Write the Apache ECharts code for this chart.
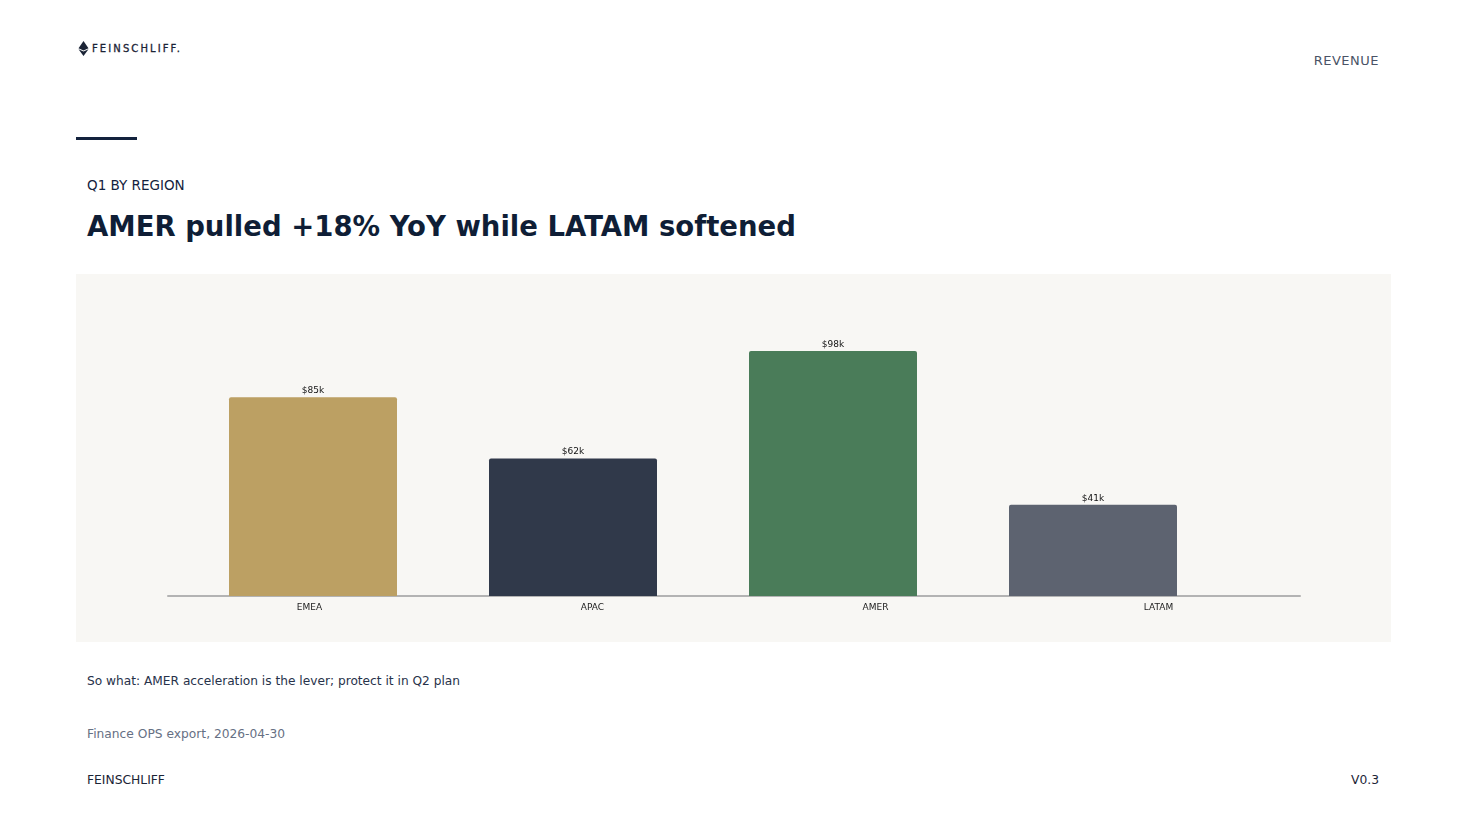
<!DOCTYPE html>
<html>
<head>
<meta charset="utf-8">
<script src="https://cdn.jsdelivr.net/npm/echarts@6/dist/echarts.min.js"></script>
<style>
  html, body { margin: 0; padding: 0; background: #ffffff; }
  body { width: 1467px; height: 825px; position: relative; font-family: "DejaVu Sans", sans-serif; overflow: hidden; }
  .t { position: absolute; white-space: nowrap; }
  #logo { left: 78px; top: 41px; display: flex; align-items: center; }
  #logo span { font-size: 10px; font-weight: normal; letter-spacing: 2.1px; color: #1b2436; margin-left: 3px; -webkit-text-stroke: 0.3px #1b2436; }
  #tag { right: 88px; top: 53px; font-size: 13px; letter-spacing: 0.5px; color: #4a5366; }
  #rule { position: absolute; left: 76px; top: 137px; width: 61px; height: 3px; background: #13223d; }
  #kicker { left: 87px; top: 177px; font-size: 13.5px; color: #13223d; }
  #title { left: 87px; top: 210px; font-size: 27.5px; font-weight: bold; color: #0f1e36; }
  #chart { position: absolute; left: 76px; top: 274px; width: 1315px; height: 368px; background: #f8f7f4; }
  #sowhat { left: 87px; top: 674px; font-size: 12.2px; color: #27324a; }
  #source { left: 87px; top: 727px; font-size: 12.25px; color: #667084; }
  #foot1 { left: 87px; top: 773px; font-size: 12.3px; color: #1b2436; }
  #foot2 { right: 88px; top: 773px; font-size: 12.3px; color: #1b2436; }
</style>
</head>
<body>
<div class="t" id="logo">
  <svg width="11" height="15" viewBox="0 0 11 15">
    <polygon points="5.5,0 10.5,7.2 5.5,9.6 0.5,7.2" fill="#1b2436"/>
    <polygon points="5.5,10.6 10.5,8.2 5.5,15 0.5,8.2" fill="#1b2436"/>
  </svg>
  <span>FEINSCHLIFF.</span>
</div>
<div class="t" id="tag">REVENUE</div>
<div id="rule"></div>
<div class="t" id="kicker">Q1 BY REGION</div>
<div class="t" id="title">AMER pulled +18% YoY while LATAM softened</div>
<div id="chart"></div>
<div class="t" id="sowhat">So what: AMER acceleration is the lever; protect it in Q2 plan</div>
<div class="t" id="source">Finance OPS export, 2026-04-30</div>
<div class="t" id="foot1">FEINSCHLIFF</div>
<div class="t" id="foot2">V0.3</div>
<script>
var regions = ['EMEA', 'APAC', 'AMER', 'LATAM'];
// value labels as printed above the bars
var valueLabels = ['$85k', '$62k', '$98k', '$41k'];
var barValues = [79.5, 55, 98, 36.5];
var barColors = ['#bca063', '#30394a', '#4a7c59', '#5d6370'];

var chart = echarts.init(document.getElementById('chart'));
var option = {
  backgroundColor: 'transparent',
  animation: false,
  grid: [
    { left: 92, width: 1132, top: 77, bottom: 46 },
    { left: 107, width: 1040, top: 77, bottom: 46 }
  ],
  xAxis: [{
    gridIndex: 0,
    type: 'category',
    data: regions,
    axisLine: { lineStyle: { color: '#b3b3b3', width: 2 } },
    axisTick: { show: false },
    axisLabel: { color: '#222', fontSize: 9, margin: 7, fontFamily: 'DejaVu Sans' }
  }, {
    gridIndex: 1,
    type: 'category',
    data: regions,
    show: false
  }],
  yAxis: [{
    gridIndex: 0, type: 'value', min: 0, max: 98, show: false
  }, {
    gridIndex: 1, type: 'value', min: 0, max: 98, show: false
  }],
  series: [{
    type: 'bar',
    xAxisIndex: 0,
    yAxisIndex: 0,
    data: [null, null, null, null]
  }, {
    type: 'bar',
    xAxisIndex: 1,
    yAxisIndex: 1,
    barWidth: 168,
    z: 3,
    data: barValues.map(function (v, i) {
      return { value: v, itemStyle: { color: barColors[i], borderRadius: [2, 2, 0, 0] } };
    }),
    label: {
      show: true,
      position: 'top',
      distance: 2,
      color: '#111',
      fontSize: 9,
      fontFamily: 'DejaVu Sans',
      formatter: function (p) { return valueLabels[p.dataIndex]; }
    }
  }]
};
chart.setOption(option);
</script>
</body>
</html>
